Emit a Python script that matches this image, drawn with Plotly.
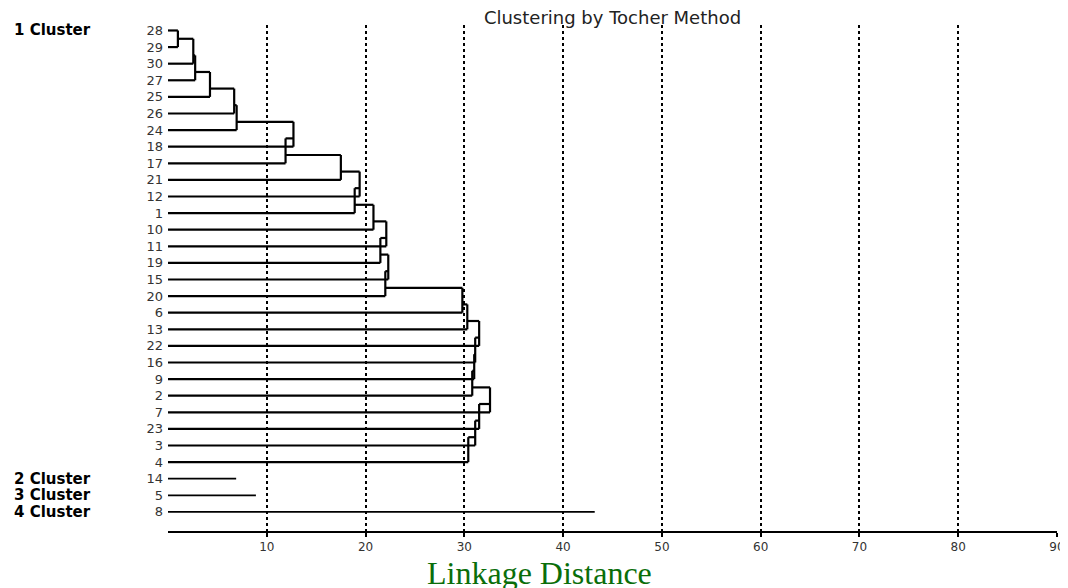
import plotly.graph_objects as go

# ---- data ----
cluster1_leaves = ["28", "29", "30", "27", "25", "26", "24", "18", "17", "21", "12", "1", "10",
                   "11", "19", "15", "20", "6", "13", "22", "16", "9", "2", "7", "23", "3", "4"]
# height at which each successive leaf (from the 2nd on) joins the chain
cluster1_join = [1.0, 2.56, 2.75, 4.25, 6.7, 6.95, 12.7, 11.9, 17.5, 19.4, 18.9, 20.8, 22.1,
                 21.5, 22.3, 22.0, 29.8, 30.3, 31.5, 31.1, 31.0, 30.8, 32.6, 31.5, 31.1, 30.4]
single_leaves = ["14", "5", "8"]
single_dist = [6.9, 8.9, 43.2]
cluster_names = ["1 Cluster", "2 Cluster", "3 Cluster", "4 Cluster"]
x_ticks = [10, 20, 30, 40, 50, 60, 70, 80, 90]

all_leaves = cluster1_leaves + single_leaves
n1 = len(cluster1_leaves)

# ---- build dendrogram segments ----
xs, ys = [], []
def seg(x0, y0, x1, y1):
    xs.extend([x0, x1, None]); ys.extend([y0, y1, None])

seg(0, 0, cluster1_join[0], 0)
prev_pos, prev_h = 0, None
for k in range(1, n1):
    h = cluster1_join[k - 1]
    seg(0, k, h, k)                 # leaf line
    if prev_h is not None:
        seg(prev_h, prev_pos, h, prev_pos)   # link from previous node
    seg(h, prev_pos, h, k)          # vertical joining
    prev_pos, prev_h = k - 0.5, h

sx, sy = [], []
for i, d in enumerate(single_dist):
    r = n1 + i
    sx.extend([0, d, None]); sy.extend([r, r, None])

fig = go.Figure()
fig.add_trace(go.Scatter(x=xs, y=ys, mode="lines", line=dict(color="black", width=2.2),
                         hoverinfo="skip", showlegend=False))
fig.add_trace(go.Scatter(x=sx, y=sy, mode="lines", line=dict(color="black", width=1.7),
                         hoverinfo="skip", showlegend=False))

cluster_rows = [0, n1, n1 + 1, n1 + 2]
for name, r in zip(cluster_names, cluster_rows):
    fig.add_annotation(text=name, xref="paper", yref="y", x=-0.1755, y=r,
                       xanchor="left", yanchor="middle", showarrow=False,
                       font=dict(family="DejaVu Sans", size=15, color="black", weight="bold"))

fig.add_annotation(text="Linkage Distance", xref="paper", yref="paper", x=0.418, y=-0.083,
                   xanchor="center", yanchor="middle", showarrow=False,
                   font=dict(family="Liberation Serif", size=32, color="#0a6e0a"))

fig.update_layout(
    width=1060, height=580,
    margin=dict(l=160, r=11, t=17, b=57, autoexpand=False),
    paper_bgcolor="white", plot_bgcolor="white",
    title=dict(text="Clustering by Tocher Method", x=0.5, xref="paper", xanchor="center",
               y=1 - 10 / 580, yanchor="middle",
               font=dict(family="DejaVu Sans", size=18, color="#222")),
    xaxis=dict(range=[0, 90], tickvals=x_ticks, ticktext=[str(v) for v in x_ticks],
               automargin=False,
               showgrid=True, griddash="dot", gridcolor="black", gridwidth=1.5,
               showline=True, linecolor="black", linewidth=2, zeroline=False,
               ticks="outside", ticklen=4, tickwidth=1.5, tickcolor="black",
               tickfont=dict(family="DejaVu Sans", size=12, color="#333")),
    yaxis=dict(range=[len(all_leaves) + 0.15, -0.33], tickvals=list(range(len(all_leaves))),
               ticktext=all_leaves, showgrid=False, zeroline=False, showline=False,
               automargin=False, ticks="", ticklabelstandoff=4,
               tickfont=dict(family="DejaVu Sans", size=13, color="#333")),
)

fig.write_html("out.html")
